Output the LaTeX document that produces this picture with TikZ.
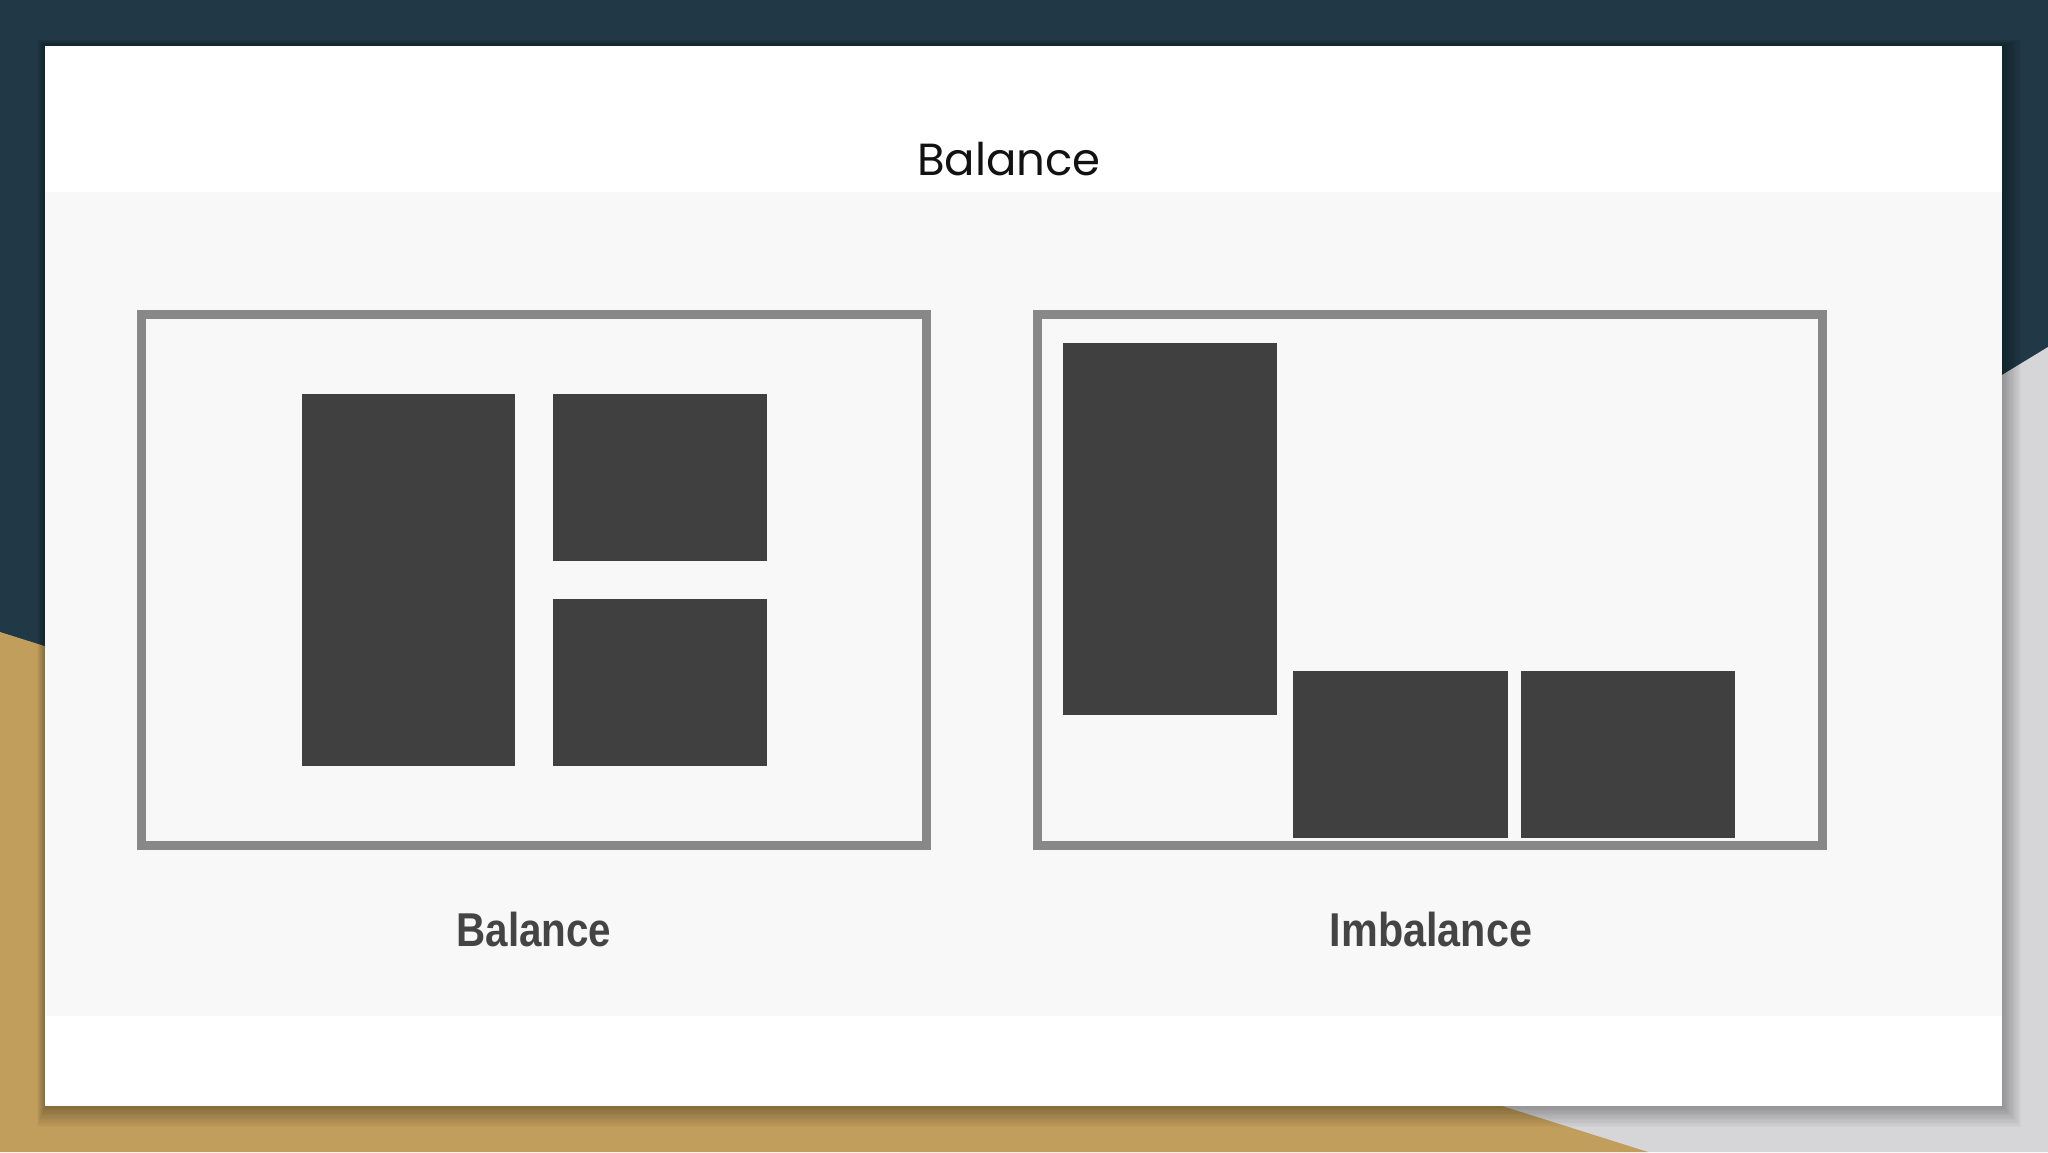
\documentclass[tikz,border=0pt]{standalone}
\usepackage{fontspec}
\setmainfont{Liberation Sans}
\newfontfamily\titlefont{Poppins}
\definecolor{navy}{RGB}{33,56,71}
\definecolor{gold}{RGB}{193,158,92}
\definecolor{sidegrey}{RGB}{214,214,217}
\definecolor{band}{RGB}{248,248,248}
\definecolor{framegrey}{RGB}{136,136,136}
\definecolor{blockgrey}{RGB}{64,64,64}
\definecolor{labelgrey}{RGB}{68,68,68}
\tikzset{
  frame/.style={draw=framegrey, line width=9pt, fill=band},
  block/.style={fill=blockgrey},
  caption/.style={anchor=base, text=labelgrey, font=\fontsize{47.5}{50}\selectfont\bfseries, inner sep=0pt},
  titletext/.style={anchor=base, text=black!93, font=\titlefont\fontsize{45}{50}\selectfont, inner sep=0pt}
}
\begin{document}
\begin{tikzpicture}[x=1pt,y=-1pt]
\useasboundingbox (0,0) rectangle (2048,1152);
% background
\fill[navy] (0,0) rectangle (2048,1152);
\fill[sidegrey] (2048,347) -- (900,1046) -- (900,1152) -- (2048,1152) -- cycle;
\fill[gold] (0,632) -- (1648,1152) -- (0,1152) -- cycle;
% soft shadow of the slide
\foreach \k in {1,...,16}{
  \fill[black, opacity=0.02] (45-\k*0.5,46-\k*0.4) rectangle (2002+\k*1.2,1106+\k*1.3);
}
% slide
\fill[white] (45,46) rectangle (2002,1106);
\fill[band] (45,192) rectangle (2002,1016);
% title
\node[titletext] (title) at (1009,175) {Balance};
% left frame
\draw[frame] (141.5,314.5) rectangle (926.5,845.5);
\fill[block] (302,394) rectangle (515,766);
\fill[block] (553,394) rectangle (767,561);
\fill[block] (553,599) rectangle (767,766);
\node[caption] (lbal) at (534,946) {\scalebox{0.85}[1]{Balance}};
% right frame
\draw[frame] (1037.5,314.5) rectangle (1822.5,845.5);
\fill[block] (1063,343) rectangle (1277,715);
\fill[block] (1293,671) rectangle (1508,838);
\fill[block] (1521,671) rectangle (1735,838);
\node[caption] (limb) at (1431,946) {\scalebox{0.87}[1]{Imbalance}};
\end{tikzpicture}
\end{document}
